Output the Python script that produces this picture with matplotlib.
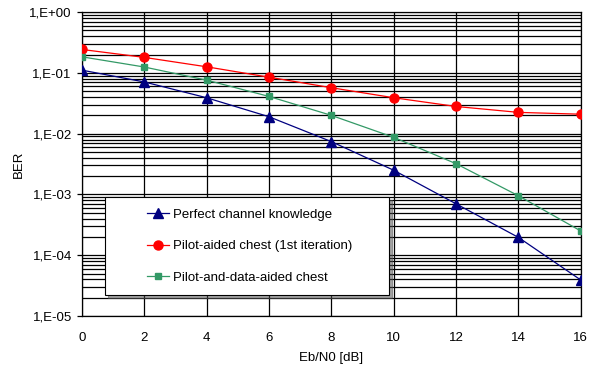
import matplotlib.pyplot as plt
from matplotlib.legend_handler import HandlerLine2D
from matplotlib.ticker import LogLocator, NullFormatter

plt.rcParams['font.family'] = ['Liberation Sans', 'DejaVu Sans']

# Data
ebn0 = [0, 2, 4, 6, 8, 10, 12, 14, 16]
ber_perfect = [0.111, 0.071, 0.039, 0.019, 0.0074, 0.0025, 0.00070, 0.000196, 0.000039]
ber_pilot = [0.243, 0.18, 0.126, 0.085, 0.057, 0.039, 0.028, 0.0224, 0.0209]
ber_pilot_data = [0.184, 0.125, 0.076, 0.041, 0.020, 0.0087, 0.0032, 0.00095, 0.00025]

labels = ["Perfect channel knowledge",
          "Pilot-aided chest (1st iteration)",
          "Pilot-and-data-aided chest"]
ytick_labels = ["1,E-05", "1,E-04", "1,E-03", "1,E-02", "1,E-01", "1,E+00"]

FS = 9.5


def main():
    fig = plt.figure(figsize=(5.97, 3.67), dpi=100)
    ax = fig.add_axes([0.137, 0.139, 0.836, 0.828])

    ax.plot(ebn0, ber_perfect, color='#000080', marker='^', markersize=7,
            linewidth=0.9, label=labels[0], zorder=3)
    ax.plot(ebn0, ber_pilot, color='#FF0000', marker='o', markersize=6.5,
            linewidth=0.9, label=labels[1], zorder=3)
    ax.plot(ebn0, ber_pilot_data, color='#339966', marker='s', markersize=4,
            linewidth=0.9, label=labels[2], zorder=3)

    ax.set_yscale('log')
    ax.set_ylim(1e-5, 1)
    ax.set_xlim(0, 16)
    ax.set_xticks(range(0, 17, 2))
    ax.set_yticks([1e-5, 1e-4, 1e-3, 1e-2, 1e-1, 1])
    ax.set_yticklabels(ytick_labels)
    ax.yaxis.set_minor_locator(LogLocator(base=10, subs=range(2, 10)))
    ax.yaxis.set_minor_formatter(NullFormatter())

    ax.grid(True, which='major', axis='both', color='black', linewidth=0.9)
    ax.grid(True, which='minor', axis='y', color='black', linewidth=0.9)
    ax.tick_params(axis='y', which='minor', length=0)
    ax.tick_params(axis='x', which='major', length=0, labelsize=FS, pad=11.5)
    ax.tick_params(axis='y', which='major', length=3.6, width=0.9,
                   direction='out', labelsize=FS, pad=3.6)
    for sp in ax.spines.values():
        sp.set_color('black')
        sp.set_linewidth(0.9)

    ax.set_xlabel('Eb/N0 [dB]', fontsize=FS, labelpad=6)
    ax.set_ylabel('BER', fontsize=FS, labelpad=3)

    hmap = {ln: HandlerLine2D(xpad=2.35) for ln in ax.get_lines()}
    leg = ax.legend(loc='upper left', bbox_to_anchor=(0.046, 0.0, 0.569, 0.391),
                    mode='expand', fontsize=FS, frameon=True, fancybox=False,
                    shadow=True, borderpad=0.85, labelspacing=1.46,
                    handlelength=4.0, handletextpad=0.3, borderaxespad=0,
                    handler_map=hmap)
    leg.get_frame().set_edgecolor('black')
    leg.get_frame().set_linewidth(0.8)
    leg.get_frame().set_facecolor('white')
    leg.set_zorder(5)

    fig.savefig('out.png', dpi=100)


if __name__ == "__main__":
    main()
